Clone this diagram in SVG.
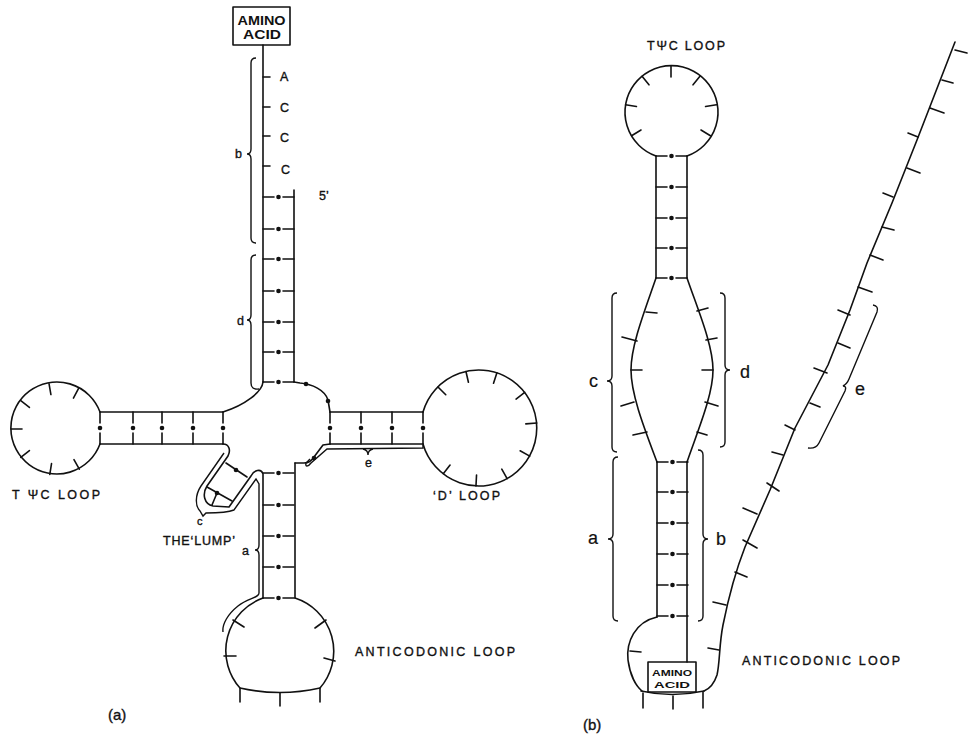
<svg xmlns="http://www.w3.org/2000/svg" width="968" height="735" viewBox="0 0 968 735">
<style>
.s{fill:none;stroke:#111;stroke-width:1.6;stroke-linecap:round;stroke-linejoin:round}
.k{fill:none;stroke:#111;stroke-width:1.4}
.d{fill:#111;stroke:none}
text{font-family:"Liberation Sans","DejaVu Sans",Arial,sans-serif;fill:#111;stroke:#111;stroke-width:0.35}
.l{font-size:12.5px}
.g{font-size:18px;stroke-width:0.2}
.bx{font-weight:bold;stroke-width:0}
</style>
<defs>
<g id="hb"><path class="s" d="M0,0H11M20,0H31"/><circle class="d" cx="15.5" cy="0" r="2.3"/></g>
<g id="vb"><path class="s" d="M0,0V11M0,21V32"/><circle class="d" cx="0" cy="16" r="2.3"/></g>
</defs>
<rect width="968" height="735" fill="#fff"/>

<!-- ===== (a) cloverleaf ===== -->
<g id="a-amino-acid">
<rect class="s" x="233" y="7" width="57" height="38"/>
<text class="bx" x="261.5" y="25" font-size="12.5" text-anchor="middle" textLength="48" lengthAdjust="spacingAndGlyphs">AMINO</text>
<text class="bx" x="262" y="39" font-size="12.5" text-anchor="middle" textLength="38" lengthAdjust="spacingAndGlyphs">ACID</text>
</g>

<g id="a-acceptor-stem">
<path class="s" d="M263,45V382M294,190V382"/>
<path class="s" d="M263,77H270M263,107H270M263,136H270M263,166H270"/>
<text class="l" x="280" y="81">A</text>
<text class="l" x="280" y="112">C</text>
<text class="l" x="280" y="142">C</text>
<text class="l" x="281" y="174">C</text>
<text class="l" x="319" y="200">5’</text>
<use href="#hb" x="263" y="197"/><use href="#hb" x="263" y="229"/><use href="#hb" x="263" y="259"/>
<use href="#hb" x="263" y="291"/><use href="#hb" x="263" y="322"/><use href="#hb" x="263" y="352"/>
<use href="#hb" x="263" y="382"/>
</g>

<g id="a-t-arm">
<path class="s" d="M100,412H223M100,444H223"/>
<path class="s" d="M100,412A46 46 0 1 0 100,444"/>
<use href="#vb" x="100" y="412"/><use href="#vb" x="133" y="412"/><use href="#vb" x="162" y="412"/>
<use href="#vb" x="193" y="412"/><use href="#vb" x="223" y="412"/>
<g class="s">
<line x1="0" y1="-46" x2="0" y2="-35" transform="translate(57 429) rotate(-10)"/>
<line x1="0" y1="-46" x2="0" y2="-35" transform="translate(57 429) rotate(28)"/>
<line x1="0" y1="-46" x2="0" y2="-35" transform="translate(57 429) rotate(-52)"/>
<line x1="0" y1="-46" x2="0" y2="-35" transform="translate(57 429) rotate(270)"/>
<line x1="0" y1="-46" x2="0" y2="-35" transform="translate(57 429) rotate(232)"/>
<line x1="0" y1="-46" x2="0" y2="-35" transform="translate(57 429) rotate(189)"/>
<line x1="0" y1="-46" x2="0" y2="-35" transform="translate(57 429) rotate(151)"/>
</g>
<text class="l" x="12" y="499" textLength="88" lengthAdjust="spacing">T ΨC LOOP</text>
</g>

<g id="a-d-arm">
<path class="s" d="M330,412H423M330,444H423"/>
<path class="s" d="M423,412A58 58 0 1 1 423,444"/>
<use href="#vb" x="330" y="412"/><use href="#vb" x="361" y="412"/><use href="#vb" x="392" y="412"/><use href="#vb" x="423" y="412"/>
<g class="s">
<line x1="0" y1="-58" x2="0" y2="-47" transform="translate(479 428) rotate(-45)"/>
<line x1="0" y1="-58" x2="0" y2="-47" transform="translate(479 428) rotate(-13)"/>
<line x1="0" y1="-58" x2="0" y2="-47" transform="translate(479 428) rotate(18)"/>
<line x1="0" y1="-58" x2="0" y2="-47" transform="translate(479 428) rotate(52)"/>
<line x1="0" y1="-58" x2="0" y2="-47" transform="translate(479 428) rotate(85)"/>
<line x1="0" y1="-58" x2="0" y2="-47" transform="translate(479 428) rotate(119)"/>
<line x1="0" y1="-58" x2="0" y2="-47" transform="translate(479 428) rotate(151)"/>
<line x1="0" y1="-58" x2="0" y2="-47" transform="translate(479 428) rotate(183)"/>
<line x1="0" y1="-58" x2="0" y2="-47" transform="translate(479 428) rotate(218)"/>
</g>
<text class="l" x="433" y="500" textLength="67" lengthAdjust="spacing">‘D’ LOOP</text>
</g>

<g id="a-anticodon-arm">
<path class="s" d="M295,463V598"/>
<use href="#hb" x="263" y="473"/><use href="#hb" x="263" y="505"/><use href="#hb" x="263" y="536"/>
<use href="#hb" x="263" y="567"/><use href="#hb" x="263" y="598"/>
<path class="s" d="M263,598A56 56 0 0 0 240,688Q280,697 320,688A56 56 0 0 0 295,598"/>
<path class="s" d="M240,688V702M280,693V706M320,688V702"/>
<path class="s" d="M233,620L244,627M326,620L315,628M224,656H236M335,661L324,658"/>
<text class="l" x="355" y="656" textLength="160" lengthAdjust="spacing">ANTICODONIC LOOP</text>
</g>

<g id="a-lump">
<path class="s" d="M223,444C229,444 231,450 228,456L207,486C202,494 204,504 213,506L229,507L251,476C254,470 261,468 263,474V598"/>
<path class="s" d="M226,463L247,477"/><circle class="d" cx="236" cy="470" r="2.3"/>
<path class="s" d="M207,487L232,501M217,493L212,505"/><circle class="d" cx="217" cy="493" r="2.3"/>
<text x="197" y="525" font-size="11">c</text>
<text class="l" x="163" y="545" textLength="72" lengthAdjust="spacing">THE‘LUMP’</text>
</g>

<g id="connectors">
<path class="s" d="M263,382C262,392 245,405 223,412"/>
<path class="s" d="M294,382L300,383C312,384 325,390 328,400L330,412"/>
<circle class="d" cx="306" cy="384" r="2.3"/><circle class="d" cx="328" cy="401" r="2.3"/>
<path class="s" d="M330,444L323,445L314,457C311,462 308,463 304,463L295,463"/>
<circle class="d" cx="314" cy="458" r="2.3"/>
</g>

<g id="a-brackets">
<path class="k" d="M256,58Q251,58 251,63V149Q251,154 247,154Q251,154 251,159V238Q251,243 256,243"/>
<text class="l" x="235" y="158">b</text>
<path class="k" d="M256,255Q251,255 251,260V315Q251,320 247,320Q251,320 251,325V383Q251,390 259,389"/>
<text class="l" x="237" y="325">d</text>
<path class="k" d="M224,453L201,486C195,495 195,506 200,511L203,516L206,513C215,513 227,513 234,510L256,479L259,484V545Q259,550 255,550Q259,550 259,555V593C259,598 248,598 238,606C228,614 222,624 223,632"/>
<text class="l" x="242" y="555">a</text>
<path class="k" d="M423,445V448L327,449L311,463C308,467 305,467 306,463L310,459"/>
<path class="k" d="M363,449Q368,450 368,455Q368,450 373,449"/>
<text class="l" x="365" y="467">e</text>
</g>

<text x="108" y="720" font-size="15">(a)</text>

<!-- ===== (b) L-shape ===== -->
<g id="b-t-arm">
<path class="s" d="M656,156V278M687,156V278"/>
<path class="s" d="M656,156A46.5 46.5 0 1 1 687,156"/>
<use href="#hb" x="656" y="156"/><use href="#hb" x="656" y="187"/><use href="#hb" x="656" y="218"/>
<use href="#hb" x="656" y="248"/><use href="#hb" x="656" y="278"/>
<g class="s">
<line x1="0" y1="-46" x2="0" y2="-35" transform="translate(671 112) rotate(0)"/>
<line x1="0" y1="-46" x2="0" y2="-35" transform="translate(671 112) rotate(-39)"/>
<line x1="0" y1="-46" x2="0" y2="-35" transform="translate(671 112) rotate(39)"/>
<line x1="0" y1="-46" x2="0" y2="-35" transform="translate(671 112) rotate(-81)"/>
<line x1="0" y1="-46" x2="0" y2="-35" transform="translate(671 112) rotate(81)"/>
<line x1="0" y1="-46" x2="0" y2="-35" transform="translate(671 112) rotate(239)"/>
<line x1="0" y1="-46" x2="0" y2="-35" transform="translate(671 112) rotate(121)"/>
</g>
<text class="l" x="647" y="50" textLength="78" lengthAdjust="spacing">TΨC LOOP</text>
</g>

<g id="b-bulge">
<path class="s" d="M656,278C645,310 631,345 631,370C631,395 645,430 657,462"/>
<path class="s" d="M687,278C698,310 713,345 713,370C713,395 698,430 687,462"/>
<path class="s" d="M646,312L657,313M622,337L637,341M631,370H642M621,406L634,402M633,435L647,432"/>
<path class="s" d="M697,311L708,308M706,340L717,338M702,370H713M705,402L718,406M697,432L707,435"/>
</g>

<g id="b-lower-stem">
<path class="s" d="M657,462V617M687,462V662"/>
<use href="#hb" x="657" y="462"/><use href="#hb" x="657" y="492"/><use href="#hb" x="657" y="523"/>
<use href="#hb" x="657" y="554"/><use href="#hb" x="657" y="585"/><use href="#hb" x="657" y="616"/>
</g>

<g id="b-anticodon-loop">
<path class="s" d="M657,617C635,622 626,642 628,660C630,675 636,686 642,691"/>
<path class="s" d="M641,691Q672,698 704,691"/>
<path class="s" d="M643,693V708M673,696V709M703,692V708"/>
<path class="s" d="M630,651L641,652"/>
<rect class="s" x="648" y="662" width="48" height="30"/>
<text class="bx" x="672" y="676" font-size="9.5" text-anchor="middle" textLength="40" lengthAdjust="spacingAndGlyphs">AMINO</text>
<text class="bx" x="672" y="688" font-size="9.5" text-anchor="middle" textLength="36" lengthAdjust="spacingAndGlyphs">ACID</text>
<text class="l" x="742" y="665" textLength="158" lengthAdjust="spacing">ANTICODONIC LOOP</text>
</g>

<g id="b-strand">
<path class="s" d="M955,42L917,140L892,203L867,263L850,310L828,365L795,428L770,490L745,547C736,570 728,600 723,625C719,645 720,662 717,675C714,684 709,689 704,691"/>
<path class="s" d="M955,50L967,53M942,80L953,83M930,108L944,113M908,133L918,137M907,168L920,173M883,193L893,197M882,227L894,230M870,255L883,260M858,287L872,292M838,310L850,315M838,343L850,348M814,368L827,373M810,403L820,407M785,425L795,430M772,452L783,455M767,483L779,491M743,508L757,514M743,540L757,548M735,572L747,577M713,602L726,605M708,648L719,650"/>
</g>

<g id="b-brackets">
<path class="k" d="M617,293Q612,293 612,298V376Q612,381 607,381Q612,381 612,386V447Q612,452 617,452"/>
<text class="g" x="589" y="387">c</text>
<path class="k" d="M618,457Q613,457 613,462V534Q613,539 608,539Q613,539 613,544V616Q613,621 618,621"/>
<text class="g" x="588" y="544">a</text>
<path class="k" d="M720,293Q725,293 725,298V365Q725,370 730,370Q725,370 725,375V442Q725,447 720,447"/>
<text class="g" x="740" y="378">d</text>
<path class="k" d="M698,450Q703,450 703,455V534Q703,539 708,539Q703,539 703,544V616Q703,621 698,621"/>
<text class="g" x="716" y="545">b</text>
<path class="k" d="M873,305Q879,306 877,312L849,379Q847,384 843,386Q847,386 845,391L819,443Q816,449 808,448"/>
<text class="g" x="855" y="395">e</text>
</g>

<text x="583" y="730" font-size="15">(b)</text>
</svg>
